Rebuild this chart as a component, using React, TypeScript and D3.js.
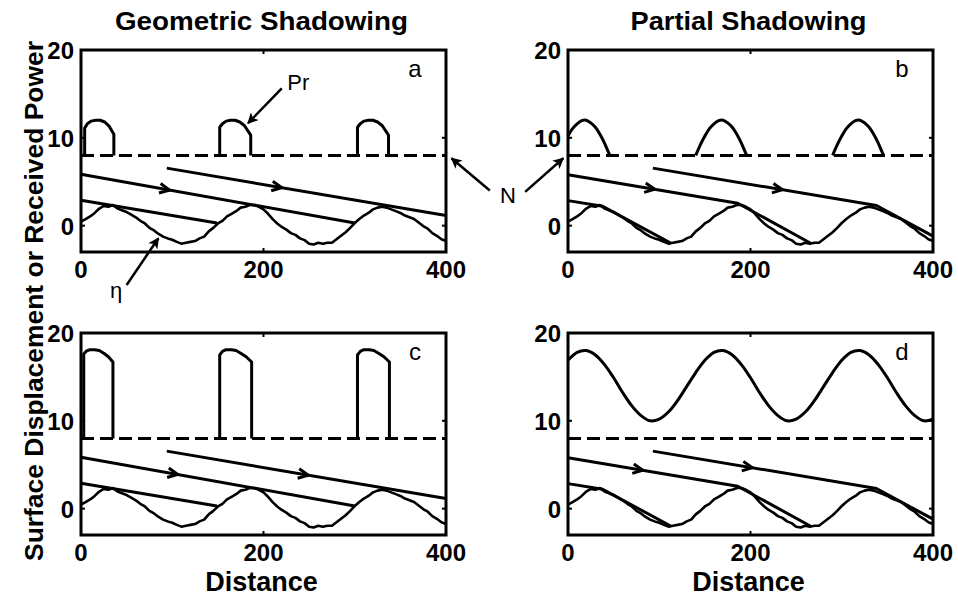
import React, { useEffect, useRef } from 'react';
import * as d3 from 'd3';

// axis ticks
const distanceTicks = [0, 200, 400];
const valueTicks = [0, 10, 20];
const noiseLevel = 8;

// surface displacement eta, sampled every 5 units of distance
const etaDistance = d3.range(0, 401, 5);
const etaValues = [
  0.45, 0.75, 1.05, 1.45, 1.95, 2.25, 2.15, 2.35, 1.95, 1.75,
  1.55, 1.25, 0.95, 0.55, 0.25, -0.25, -0.55, -0.95, -1.25, -1.45,
  -1.6, -1.85, -2.05, -1.95, -1.85, -1.75, -1.45, -1.25, -0.65, -0.25,
  0.25, 0.55, 1.05, 1.35, 1.65, 2.05, 2.15, 2.35, 2.35, 2.15,
  1.85, 1.35, 0.75, 0.25, -0.15, -0.45, -0.85, -1.05, -1.45, -1.65,
  -2.05, -2.15, -1.95, -2.05, -1.95, -1.95, -1.55, -1.15, -0.75, -0.25,
  0.3, 0.75, 1.15, 1.45, 1.85, 2.05, 2.15, 2.05, 1.85, 1.65,
  1.45, 1.15, 0.95, 0.75, 0.35, -0.05, -0.35, -0.85, -1.15, -1.55,
  -1.75,
];

// incident rays
const geometricRays = [
  [[0, 2.9], [149, 0.3]],
  [[0, 5.85], [300, 0.3]],
  [[94, 6.55], [400, 1.15]],
];
const partialRays = [
  [[0, 2.85], [38, 2.2], [113, -2.0]],
  [[0, 5.8], [186, 2.55], [266, -2.0]],
  [[93, 6.55], [338, 2.3], [400, -1.2]],
];

// arrow positions (ray index, distance)
const arrowsA = [[1, 97], [2, 220]];
const arrowsB = [[1, 95], [2, 235]];
const arrowsC = [[1, 106], [2, 249]];
const arrowsD = [[1, 82], [2, 202]];

// received power
const pulsesA = [
  [[4, 8], [4, 11.1], [7, 11.6], [11, 11.9], [16, 12], [21, 12], [26, 11.8], [31, 11.3], [36, 10.4], [36, 8]],
  [[152, 8], [152, 11.2], [155, 11.6], [159, 11.9], [164, 12], [169, 12], [174, 11.8], [179, 11.4], [186, 10.3], [186, 8]],
  [[303, 8], [303, 11.2], [306, 11.6], [310, 11.9], [315, 12], [320, 12], [325, 11.8], [330, 11.4], [337, 10.3], [337, 8]],
];
const pulsesC = [
  [[3, 8], [3, 17.6], [6, 17.95], [10, 18.1], [15, 18.1], [20, 18.0], [25, 17.7], [30, 17.3], [35, 16.7], [35, 8]],
  [[152, 8], [152, 17.5], [155, 17.9], [159, 18.1], [165, 18.1], [170, 18.0], [175, 17.7], [181, 17.3], [187, 16.7], [187, 8]],
  [[303, 8], [303, 17.5], [306, 17.9], [310, 18.1], [316, 18.1], [321, 18.0], [326, 17.7], [332, 17.3], [338, 16.7], [338, 8]],
];
const humpsB = [
  [[0, 10.2], [5, 11.05], [10, 11.6], [15, 11.95], [20, 12], [25, 11.7], [30, 11.2], [35, 10.4], [40, 9.4], [45, 8.2], [46, 8]],
  [[140, 8], [145, 9.2], [150, 10.2], [155, 11.05], [160, 11.6], [165, 11.95], [170, 12], [175, 11.7], [180, 11.2], [185, 10.4], [190, 9.4], [195, 8.2], [196, 8]],
  [[290, 8], [295, 9.2], [300, 10.2], [305, 11.05], [310, 11.6], [315, 11.95], [320, 12], [325, 11.7], [330, 11.2], [335, 10.4], [340, 9.4], [345, 8.2], [346, 8]],
];
const powerDDistance = d3.range(0, 401, 10);
const powerDValues = [
  16.9, 17.8, 18.0, 17.5, 16.4, 14.9, 13.2, 11.7, 10.6, 10.0,
  10.2, 11.0, 12.3, 13.9, 15.5, 16.9, 17.8, 18.0, 17.5, 16.4,
  14.9, 13.2, 11.7, 10.6, 10.0, 10.2, 11.0, 12.3, 13.9, 15.5,
  16.9, 17.8, 18.0, 17.5, 16.4, 14.9, 13.2, 11.7, 10.6, 10.0,
  10.2,
];

const columnTitles = ['Geometric Shadowing', 'Partial Shadowing'];
const titleWidths = [293, 236];
const panelLetters = ['a', 'b', 'c', 'd'];

const W = 958;
const H = 597;
const font = '"Liberation Sans", Arial, sans-serif';

export default function App() {
  const ref = useRef<SVGSVGElement>(null);

  useEffect(() => {
    const svg = d3.select(ref.current);
    svg.selectAll('*').remove();

    const defs = svg.append('defs');
    defs.append('marker')
      .attr('id', 'head')
      .attr('viewBox', '0 0 10 10')
      .attr('refX', 9)
      .attr('refY', 5)
      .attr('markerUnits', 'userSpaceOnUse')
      .attr('markerWidth', 13)
      .attr('markerHeight', 11)
      .attr('orient', 'auto')
      .append('path')
      .attr('d', 'M0,0 L10,5 L0,10 L2.5,5 z')
      .attr('fill', '#000');

    const cols = [81, 568];
    const rows = [50, 333];
    const pw = 365;
    const ph = 202;

    const etaData = etaDistance.map((d, i) => [d, etaValues[i]]);
    const powerD = powerDDistance.map((d, i) => [d, powerDValues[i]]);

    const panels = [
      { c: 0, r: 0, rays: geometricRays, arrows: arrowsA, power: pulsesA, smooth: false },
      { c: 1, r: 0, rays: partialRays, arrows: arrowsB, power: humpsB, smooth: true },
      { c: 0, r: 1, rays: geometricRays, arrows: arrowsC, power: pulsesC, smooth: false },
      { c: 1, r: 1, rays: partialRays, arrows: arrowsD, power: [powerD], smooth: true },
    ];

    const scales: any[] = [];

    panels.forEach((p, pi) => {
      const x = d3.scaleLinear().domain([0, 400]).range([cols[p.c], cols[p.c] + pw]);
      const y = d3.scaleLinear().domain([-3, 20]).range([rows[p.r] + ph, rows[p.r]]);
      scales.push({ x, y });
      const g = svg.append('g');

      const line = d3.line<any>().x(d => x(d[0])).y(d => y(d[1]));
      const smoothLine = d3.line<any>().x(d => x(d[0])).y(d => y(d[1])).curve(d3.curveCatmullRom);

      // noise level
      g.append('line')
        .attr('x1', x(0)).attr('x2', x(400))
        .attr('y1', y(noiseLevel)).attr('y2', y(noiseLevel))
        .attr('stroke', '#000').attr('stroke-width', 3)
        .attr('stroke-dasharray', '13,6');

      // received power
      g.selectAll('path.power').data(p.power).enter().append('path')
        .attr('class', 'power')
        .attr('d', d => (p.smooth ? smoothLine(d) : line(d)))
        .attr('fill', 'none').attr('stroke', '#000').attr('stroke-width', 3)
        .attr('stroke-linejoin', 'round');

      // rays
      g.selectAll('path.ray').data(p.rays).enter().append('path')
        .attr('class', 'ray')
        .attr('d', d => line(d))
        .attr('fill', 'none').attr('stroke', '#000').attr('stroke-width', 3)
        .attr('stroke-linejoin', 'round');

      // ray arrows
      p.arrows.forEach(([ri, xd]) => {
        const pts = p.rays[ri];
        const a = pts[0];
        const b = pts[1];
        const t = (xd - a[0]) / (b[0] - a[0]);
        const yd = a[1] + t * (b[1] - a[1]);
        const px = x(xd);
        const py = y(yd);
        const ang = Math.atan2(y(b[1]) - y(a[1]), x(b[0]) - x(a[0]));
        const L = 11;
        const sp = 0.45;
        const p1 = [px - L * Math.cos(ang - sp), py - L * Math.sin(ang - sp)];
        const p2 = [px - L * Math.cos(ang + sp), py - L * Math.sin(ang + sp)];
        g.append('path')
          .attr('d', `M${p1[0]},${p1[1]} L${px},${py} L${p2[0]},${p2[1]}`)
          .attr('fill', 'none').attr('stroke', '#000').attr('stroke-width', 3);
      });

      // surface
      g.append('path')
        .attr('d', line(etaData))
        .attr('fill', 'none').attr('stroke', '#000').attr('stroke-width', 2.6)
        .attr('stroke-linejoin', 'round');

      // box
      g.append('rect')
        .attr('x', x(0)).attr('y', y(20))
        .attr('width', pw).attr('height', ph)
        .attr('fill', 'none').attr('stroke', '#000').attr('stroke-width', 3);

      // ticks
      distanceTicks.forEach(t => {
        g.append('line').attr('x1', x(t)).attr('x2', x(t)).attr('y1', y(20)).attr('y2', y(20) + 4)
          .attr('stroke', '#000').attr('stroke-width', 2);
        g.append('line').attr('x1', x(t)).attr('x2', x(t)).attr('y1', y(-3)).attr('y2', y(-3) - 4)
          .attr('stroke', '#000').attr('stroke-width', 2);
        g.append('text')
          .attr('x', x(t)).attr('y', y(-3) + 26)
          .attr('text-anchor', 'middle')
          .attr('font-family', font).attr('font-weight', 'bold').attr('font-size', 24)
          .text(t);
      });
      valueTicks.forEach(t => {
        g.append('line').attr('x1', x(0)).attr('x2', x(0) + 4).attr('y1', y(t)).attr('y2', y(t))
          .attr('stroke', '#000').attr('stroke-width', 2);
        g.append('line').attr('x1', x(400)).attr('x2', x(400) - 4).attr('y1', y(t)).attr('y2', y(t))
          .attr('stroke', '#000').attr('stroke-width', 2);
        g.append('text')
          .attr('x', x(0) - 7).attr('y', y(t) + 9)
          .attr('text-anchor', 'end')
          .attr('font-family', font).attr('font-weight', 'bold').attr('font-size', 24)
          .text(t);
      });

      // panel letter
      g.append('text')
        .attr('x', x(0) + 334).attr('y', y(20) + 27)
        .attr('text-anchor', 'middle')
        .attr('font-family', font).attr('font-size', 24)
        .text(panelLetters[pi]);
    });

    // column titles
    columnTitles.forEach((t, i) => {
      svg.append('text')
        .attr('x', cols[i] + pw / 2 - 2).attr('y', 30)
        .attr('text-anchor', 'middle')
        .attr('font-family', font).attr('font-weight', 'bold').attr('font-size', 25)
        .attr('textLength', titleWidths[i])
        .attr('lengthAdjust', 'spacingAndGlyphs')
        .text(t);
      svg.append('text')
        .attr('x', cols[i] + pw / 2 - 2).attr('y', 591)
        .attr('text-anchor', 'middle')
        .attr('font-family', font).attr('font-weight', 'bold').attr('font-size', 27)
        .text('Distance');
    });

    // y label
    svg.append('text')
      .attr('transform', 'translate(43,301) rotate(-90)')
      .attr('text-anchor', 'middle')
      .attr('font-family', font).attr('font-weight', 'bold').attr('font-size', 26)
      .attr('textLength', 520)
      .attr('lengthAdjust', 'spacingAndGlyphs')
      .text('Surface Displacement or Received Power');

    // annotations
    const sa = scales[0];
    const sb = scales[1];
    const arrow = (x1: number, y1: number, x2: number, y2: number) =>
      svg.append('line')
        .attr('x1', x1).attr('y1', y1).attr('x2', x2).attr('y2', y2)
        .attr('stroke', '#000').attr('stroke-width', 2.5)
        .attr('marker-end', 'url(#head)');

    arrow(sa.x(220), sa.y(15.64), sa.x(183), sa.y(11.66));
    svg.append('text')
      .attr('x', sa.x(226)).attr('y', sa.y(15.45))
      .attr('font-family', font).attr('font-size', 22)
      .text('Pr');

    arrow(sa.x(50), sa.y(-6.75), sa.x(84.8), sa.y(-1.43));
    svg.append('text')
      .attr('x', sa.x(38.5)).attr('y', sa.y(-8.2))
      .attr('text-anchor', 'middle')
      .attr('font-family', font).attr('font-size', 22)
      .text('η');

    arrow(sa.x(448), sa.y(4.0), sa.x(406), sa.y(7.67));
    arrow(sb.x(-47), sb.y(3.85), sb.x(-5.2), sb.y(7.67));
    svg.append('text')
      .attr('x', 508).attr('y', 203)
      .attr('text-anchor', 'middle')
      .attr('font-family', font).attr('font-size', 22)
      .text('N');
  }, []);

  return (
    <svg
      ref={ref}
      width={W}
      height={H}
      style={{ position: 'absolute', left: 0, top: 0, background: '#fff' }}
    />
  );
}
